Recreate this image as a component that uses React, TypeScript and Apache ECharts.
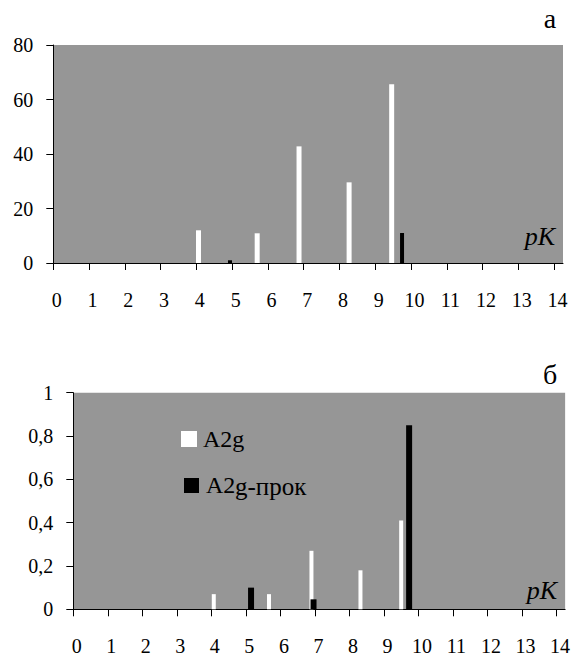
import React, { useEffect, useRef } from 'react';
import * as echarts from 'echarts';

// pK tick labels (shared by both panels)
const pkTicks = [0, 1, 2, 3, 4, 5, 6, 7, 8, 9, 10, 11, 12, 13, 14];

// Panel "а"
const aWhiteX = [4.06, 5.7, 6.87, 8.27, 9.46];
const aWhiteY = [12, 10.9, 42.8, 29.6, 65.6];
const aBlackX = [4.94, 9.75];
const aBlackY = [1, 11];

// Panel "б"
const bWhiteX = [4.07, 5.67, 6.9, 8.32, 9.5];
const bWhiteY = [0.07, 0.07, 0.27, 0.18, 0.41];
const bBlackX = [5.15, 6.96, 9.73];
const bBlackY = [0.1, 0.046, 0.85];

const seriesNames = ['A2g', 'A2g-прок'];
const panelLabels = ['а', 'б'];
const axisName = 'pK';

const FONT = 'Liberation Serif';

function xAxis(gridIndex: number, show: boolean) {
  return {
    type: 'value',
    gridIndex,
    min: 0,
    max: 14.25,
    show,
    axisLine: { show: true, onZero: false, lineStyle: { color: '#000', width: 1 } },
    axisTick: { show: true, inside: false, length: 7, customValues: pkTicks, lineStyle: { color: '#000', width: 1 } },
    axisLabel: {
      customValues: pkTicks,
      fontFamily: FONT,
      fontSize: 20,
      color: '#000',
      margin: 27,
      padding: [0, 0, 0, 7],
    },
    splitLine: { show: false },
  };
}

function yAxis(gridIndex: number, max: number, interval: number, fmt: (v: number) => string) {
  return {
    type: 'value',
    gridIndex,
    min: 0,
    max,
    interval,
    axisLine: { show: true, lineStyle: { color: '#000', width: 1 } },
    axisTick: { show: true, inside: false, length: 7, lineStyle: { color: '#000', width: 1 } },
    axisLabel: { fontFamily: FONT, fontSize: 20, color: '#000', margin: 20, formatter: fmt },
    splitLine: { show: false },
  };
}

function txt(x: number, y: number, text: string, size: number, align: string, italic = false) {
  const style: any = { text, fontFamily: FONT, fontSize: size, fill: '#000', align, verticalAlign: 'middle' };
  if (italic) style.fontStyle = 'italic';
  return { type: 'text', x, y, style };
}

export default function App() {
  const ref = useRef<HTMLDivElement>(null);
  useEffect(() => {
    if (!ref.current) return;
    const chart = echarts.init(ref.current, undefined, { renderer: 'svg' });
    const pair = (xs: number[], ys: number[]) => xs.map((x, i) => [x, ys[i]]);
    chart.setOption({
      animation: false,
      backgroundColor: '#fff',
      textStyle: { fontFamily: FONT },
      grid: [
        { left: 53.3, right: 10, top: 45, height: 218, show: true, backgroundColor: '#969696', borderWidth: 0 },
        { left: 73.3, right: 6.3, top: 392.7, height: 216.6, show: true, backgroundColor: '#969696', borderWidth: 0 },
      ],
      xAxis: [xAxis(0, true), xAxis(0, false), xAxis(1, true), xAxis(1, false)],
      yAxis: [
        yAxis(0, 80, 20, (v: number) => String(v)),
        yAxis(1, 1, 0.2, (v: number) => String(Math.round(v * 10) / 10).replace('.', ',')),
      ],
      series: [
        { type: 'bar', name: seriesNames[0], xAxisIndex: 0, yAxisIndex: 0, barWidth: 5, itemStyle: { color: '#fff' }, data: pair(aWhiteX, aWhiteY) },
        { type: 'bar', name: seriesNames[1], xAxisIndex: 1, yAxisIndex: 0, barWidth: 4, itemStyle: { color: '#000' }, data: pair(aBlackX, aBlackY) },
        { type: 'bar', name: seriesNames[0], xAxisIndex: 2, yAxisIndex: 1, barWidth: 4, itemStyle: { color: '#fff' }, data: pair(bWhiteX, bWhiteY) },
        { type: 'bar', name: seriesNames[1], xAxisIndex: 3, yAxisIndex: 1, barWidth: 6, itemStyle: { color: '#000' }, data: pair(bBlackX, bBlackY) },
      ],
      graphic: [
        txt(550, 18, panelLabels[0], 28, 'center'),
        txt(550, 374, panelLabels[1], 28, 'center'),
        txt(555, 236, axisName, 26, 'right', true),
        txt(557, 590, axisName, 26, 'right', true),
        { type: 'rect', shape: { x: 181, y: 431, width: 16, height: 16 }, style: { fill: '#fff' } },
        txt(203, 439, seriesNames[0], 24, 'left'),
        { type: 'rect', shape: { x: 184, y: 478, width: 15, height: 15 }, style: { fill: '#000' } },
        txt(206, 484.5, 'A2', 24, 'left'),
        txt(235, 486, 'g-прок', 25, 'left'),
      ],
    });
    return () => chart.dispose();
  }, []);
  return <div ref={ref} style={{ position: 'fixed', left: 0, top: 0, width: 573, height: 657 }} />;
}
